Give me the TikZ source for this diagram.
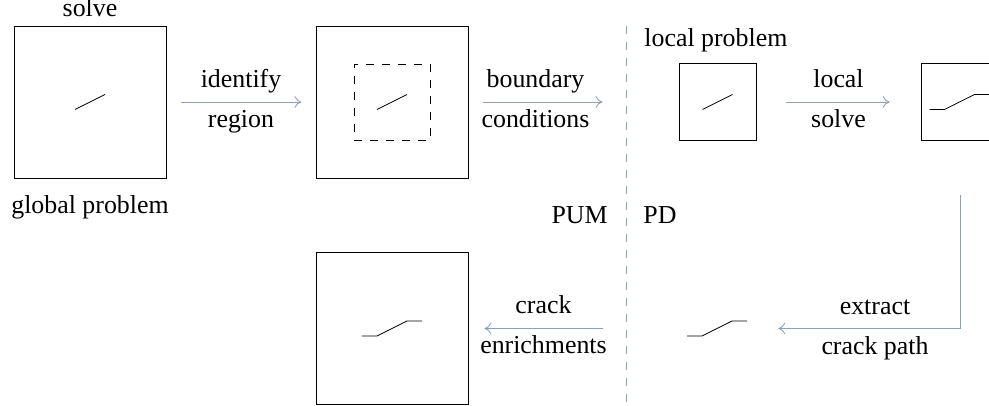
\documentclass[tikz,border=0pt]{standalone}
\usepackage{fontspec}
\setmainfont{Liberation Serif}
\usetikzlibrary{arrows.meta}
\definecolor{flowc}{RGB}{140,160,185}
\begin{document}
\begin{tikzpicture}[x=0.375pt,y=-0.375pt, line width=0.32pt,
  txt/.style={font=\fontsize{9.7pt}{11.6pt}\selectfont, inner sep=0pt, anchor=base},
  bigbox/.style={draw, minimum size=57pt, inner sep=0pt},
  smallbox/.style={draw, minimum size=28.9pt, inner sep=0pt},
  flow/.style={draw=flowc, -{Computer Modern Rightarrow[length=2.6pt, width=4.4pt]}},
  uplab/.style={txt, midway, yshift=5.6pt},
  lowlab/.style={txt, midway, yshift=-9.4pt},
  crackline/.style={draw, line cap=butt}]
\path[use as bounding box, clip] (0,0) rectangle (989,406);

% global problem
\node[bigbox] (b1) at (90,102) {};
\node[txt] (solvetop) at (90,17) {solve};
\node[txt] (glob) at (90,213) {global problem};
\draw[crackline] ([shift={(-15,7.5)}]b1.center) -- ([shift={(15,-7.5)}]b1.center);

% identified region
\node[bigbox] (b2) at (392,102) {};
\node[draw, dashed, minimum size=28.5pt, inner sep=0pt] (reg) at (392,102) {};
\draw[crackline] ([shift={(-15,7.5)}]b2.center) -- ([shift={(15,-7.5)}]b2.center);

% local problem
\node[smallbox] (b3) at (717.5,102) {};
\node[txt, anchor=base west] (locp) at (644,47) {local problem};
\draw[crackline] ([shift={(-15,7.5)}]b3.center) -- ([shift={(15,-7.5)}]b3.center);

% local solution
\node[smallbox] (b4) at (959.5,102) {};
\draw[crackline] ([shift={(-30,7.5)}]b4.center) -- ([shift={(-15,7.5)}]b4.center)
  -- ([shift={(15,-7.5)}]b4.center) -- ([shift={(40,-7.5)}]b4.center);

% extracted crack
\node[minimum width=22.5pt, minimum height=5.6pt, inner sep=0pt] (crk) at (717,328.5) {};
\draw[crackline] ([shift={(-30,7.5)}]crk.center) -- ([shift={(-15,7.5)}]crk.center)
  -- ([shift={(15,-7.5)}]crk.center) -- ([shift={(30,-7.5)}]crk.center);

% enriched global problem
\node[bigbox] (b5) at (392,328.5) {};
\draw[crackline] ([shift={(-30,7.5)}]b5.center) -- ([shift={(-15,7.5)}]b5.center)
  -- ([shift={(15,-7.5)}]b5.center) -- ([shift={(30,-7.5)}]b5.center);

% divider
\coordinate (dtop) at (626,26);
\coordinate (dbot) at (626,402);
\draw[flowc, dashed] (dtop) -- (dbot);
\node[txt, anchor=base east] (pum) at (608,224) {PUM};
\node[txt, anchor=base west] (pd) at (643,224) {PD};

% flow arrows
\draw[flow, shorten <=5.6pt, shorten >=5.3pt] (b1.east) -- (b2.west)
  node[uplab] (l1a) {identify} node[lowlab] (l1b) {region};
\draw[flow, shorten <=5.6pt] (b2.east) -- ([xshift=-28.5pt]b3.west)
  node[uplab] (l2a) {boundary} node[lowlab] (l2b) {conditions};
\draw[flow, shorten <=10.9pt, shorten >=11.6pt] (b3.east) -- (b4.west)
  node[uplab] (l3a) {local} node[lowlab] (l3b) {solve};
\draw[flow, shorten <=20.3pt, shorten >=11.6pt] ([xshift=0.2pt]b4.south) |- (crk.east);
\node[txt] (l4a) at (875,314) {extract};
\node[txt] (l4b) at (875,354) {crack path};
\draw[flow, shorten <=31.5pt, shorten >=6pt] (crk.west) -- (b5.east)
  node[uplab, pos=0.656] (l5a) {crack} node[lowlab, pos=0.656] (l5b) {enrichments};
\end{tikzpicture}
\end{document}
